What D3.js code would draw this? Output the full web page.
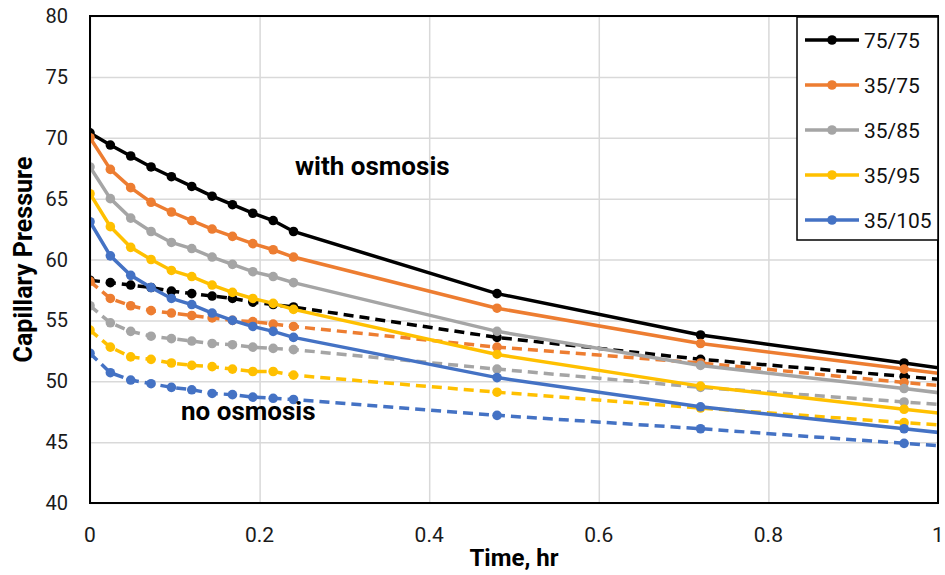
<!DOCTYPE html>
<meta charset="utf-8">
<style>
  body { margin: 0; background: #fff; }
  svg { font-family: Roboto, "Liberation Sans", sans-serif; }
</style>
<svg width="945" height="575"></svg>
<script src="https://cdn.jsdelivr.net/npm/d3@7"></script>
<script>
// time points (hr); the last one lies past the axis and is clipped
var times = [0, 0.024, 0.048, 0.072, 0.096, 0.12, 0.144, 0.168, 0.192, 0.216, 0.24, 0.48, 0.72, 0.96, 1.2];

var seriesNames = ["75/75", "35/75", "35/85", "35/95", "35/105"];
var colors = ["#000000", "#ED7D31", "#A5A5A5", "#FFC000", "#4472C4"];

// with osmosis (solid)
var withOsmosis = [
  [70.4, 69.4, 68.5, 67.6, 66.8, 66.0, 65.2, 64.5, 63.8, 63.2, 62.3, 57.2, 53.8, 51.5, 49.2],
  [70.0, 67.4, 65.9, 64.7, 63.9, 63.2, 62.5, 61.9, 61.3, 60.8, 60.2, 56.0, 53.1, 51.0, 48.9],
  [67.6, 65.0, 63.4, 62.3, 61.4, 60.9, 60.2, 59.6, 59.0, 58.6, 58.1, 54.1, 51.3, 49.4, 47.4],
  [65.4, 62.7, 61.0, 60.0, 59.1, 58.6, 57.9, 57.3, 56.8, 56.4, 55.9, 52.2, 49.6, 47.7, 45.8],
  [63.1, 60.3, 58.7, 57.7, 56.8, 56.3, 55.6, 55.0, 54.5, 54.1, 53.6, 50.3, 47.9, 46.1, 44.3]
];

// no osmosis (dashed)
var noOsmosis = [
  [58.3, 58.1, 57.9, 57.7, 57.4, 57.2, 57.0, 56.8, 56.5, 56.3, 56.1, 53.6, 51.8, 50.4, 49.0],
  [58.2, 56.8, 56.2, 55.8, 55.6, 55.4, 55.2, 55.0, 54.9, 54.7, 54.5, 52.8, 51.5, 49.9, 48.4],
  [56.2, 54.8, 54.1, 53.7, 53.5, 53.3, 53.1, 53.0, 52.8, 52.7, 52.6, 51.0, 49.5, 48.3, 47.1],
  [54.2, 52.8, 52.0, 51.8, 51.5, 51.3, 51.2, 51.0, 50.8, 50.8, 50.5, 49.1, 47.8, 46.6, 45.5],
  [52.3, 50.7, 50.1, 49.8, 49.5, 49.3, 49.0, 48.9, 48.7, 48.6, 48.5, 47.2, 46.1, 44.9, 43.8]
];

var xTicks = [0, 0.2, 0.4, 0.6, 0.8, 1];
var yTicks = [40, 45, 50, 55, 60, 65, 70, 75, 80];

var m = { left: 90, right: 938, top: 16, bottom: 503 };
var svg = d3.select("svg");

var x = d3.scaleLinear().domain([0, 1]).range([m.left, m.right]);
var y = d3.scaleLinear().domain([40, 80]).range([m.bottom, m.top]);

svg.append("clipPath").attr("id", "clip")
  .append("rect").attr("x", m.left).attr("y", m.top)
  .attr("width", m.right - m.left).attr("height", m.bottom - m.top);

// grid
svg.append("g")
  .attr("transform", "translate(0," + m.bottom + ")")
  .call(d3.axisBottom(x).tickValues(xTicks).tickSize(-(m.bottom - m.top)).tickFormat(""))
  .call(function(g) {
    g.select(".domain").remove();
    g.selectAll("line").attr("stroke", "#d9d9d9").attr("stroke-width", 1.5);
  });
svg.append("g")
  .attr("transform", "translate(" + m.left + ",0)")
  .call(d3.axisLeft(y).tickValues(yTicks).tickSize(-(m.right - m.left)).tickFormat(""))
  .call(function(g) {
    g.select(".domain").remove();
    g.selectAll("line").attr("stroke", "#d9d9d9").attr("stroke-width", 1.5);
  });

// tick labels
svg.append("g").selectAll("text").data(yTicks).enter().append("text")
  .attr("x", m.left - 22).attr("y", function(d) { return y(d) + 7; })
  .attr("text-anchor", "end").attr("font-size", 20).attr("fill", "#1a1a1a")
  .text(function(d) { return d; });

svg.append("g").selectAll("text").data(xTicks).enter().append("text")
  .attr("x", function(d) { return x(d); }).attr("y", 542)
  .attr("text-anchor", "middle").attr("font-size", 21).attr("fill", "#1a1a1a")
  .text(function(d) { return d; });

// series
var line = d3.line()
  .x(function(d, i) { return x(times[i]); })
  .y(function(d) { return y(d); });

var plot = svg.append("g").attr("clip-path", "url(#clip)");

function drawSet(data, dashed) {
  data.forEach(function(vals, s) {
    plot.append("path")
      .attr("d", line(vals))
      .attr("fill", "none")
      .attr("stroke", colors[s])
      .attr("stroke-width", 3.5)
      .attr("stroke-dasharray", dashed ? "10,6" : null);
    plot.append("g").selectAll("circle").data(vals).enter().append("circle")
      .attr("cx", function(d, i) { return x(times[i]); })
      .attr("cy", function(d) { return y(d); })
      .attr("r", 4.8)
      .attr("fill", colors[s]);
  });
}
drawSet(noOsmosis, true);
drawSet(withOsmosis, false);

// frame
svg.append("rect")
  .attr("x", m.left).attr("y", m.top)
  .attr("width", m.right - m.left).attr("height", m.bottom - m.top)
  .attr("fill", "none").attr("stroke", "#000").attr("stroke-width", 2);

// annotations
svg.append("text").attr("x", 295).attr("y", 175)
  .attr("font-size", 26).attr("font-weight", "bold").text("with osmosis");
svg.append("text").attr("x", 181).attr("y", 420)
  .attr("font-size", 26).attr("font-weight", "bold").text("no osmosis");

// axis titles
svg.append("text")
  .attr("x", (m.left + m.right) / 2).attr("y", 566)
  .attr("text-anchor", "middle").attr("font-size", 24).attr("font-weight", "bold")
  .text("Time, hr");
svg.append("text")
  .attr("transform", "translate(32," + ((m.top + m.bottom) / 2) + ") rotate(-90)")
  .attr("text-anchor", "middle").attr("font-size", 25).attr("font-weight", "bold")
  .text("Capillary Pressure");

// legend
var legend = svg.append("g");
legend.append("rect")
  .attr("x", 797).attr("y", 17).attr("width", 141).attr("height", 223)
  .attr("fill", "#fff").attr("stroke", "#000").attr("stroke-width", 1.5);
var items = legend.selectAll("g.item").data(seriesNames).enter().append("g")
  .attr("transform", function(d, i) { return "translate(0," + (40 + i * 45) + ")"; });
items.append("line").attr("x1", 805).attr("x2", 859)
  .attr("stroke", function(d, i) { return colors[i]; }).attr("stroke-width", 3.5);
items.append("circle").attr("cx", 832).attr("r", 4.8)
  .attr("fill", function(d, i) { return colors[i]; });
items.append("text").attr("x", 864).attr("y", 8).attr("font-size", 21).attr("fill", "#111")
  .text(function(d) { return d; });
</script>
